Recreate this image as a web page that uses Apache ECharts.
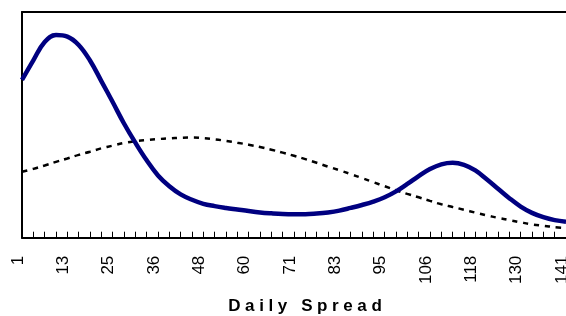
<!DOCTYPE html>
<html>
<head>
<meta charset="utf-8">
<script src="https://cdn.jsdelivr.net/npm/echarts@6/dist/echarts.min.js"></script>
<style>
html,body{margin:0;padding:0;background:#fff;}
#chart{width:566px;height:316px;}
</style>
</head>
<body>
<div id="chart"></div>
<script>
const categories = [1,4,7,10, 13,16,19,22, 25,28,31,33, 36,39,42,45, 48,51,54,57, 60,63,66,68, 71,74,77,80, 83,86,89,92, 95,98,100,103, 106,109,112,115, 118,121,124,127, 130,133,135,138, 141];
const actualSpread = [69.9,78.6,86.7,89.8, 89.1,85.4,78.5,69.4, 60.1,50.6,42.1,34.3, 27.6,22.8,19.2,16.8, 15.0,14.0,13.2,12.5, 11.8,11.2,10.8,10.5, 10.4,10.4,10.7,11.2, 12.0,13.2,14.5,16.0, 17.9,20.5,23.8,27.3, 30.4,32.5,33.2,32.3, 29.8,25.9,21.7,17.5, 13.8,11.0,9.1,7.8, 7.1];
const normalFit = [29.2,30.5,32.0,33.6, 35.1,36.7,38.1,39.6, 40.8,42.0,42.8,43.3, 43.7,44.0,44.3,44.4, 44.1,43.6,42.9,42.1, 41.2,40.2,39.0,37.7, 36.3,34.8,33.2,31.5, 29.9,28.2,26.4,24.6, 22.8,21.0,19.4,17.9, 16.3,14.8,13.6,12.4, 11.1,9.9,8.8,7.8, 6.8,5.9,5.3,4.7, 4.3];
const axisTitle = 'Daily Spread';

// letter spacing only for the axis title (canvas supports letterSpacing)
const origFill = CanvasRenderingContext2D.prototype.fillText;
CanvasRenderingContext2D.prototype.fillText = function (t, x, y, w) {
  if (t === axisTitle) {
    this.save();
    this.letterSpacing = '4.6px';
    origFill.call(this, t, x, y);
    this.letterSpacing = '0px';
    this.restore();
    return;
  }
  if ('letterSpacing' in this && this.letterSpacing !== '0px') this.letterSpacing = '0px';
  return origFill.apply(this, arguments);
};

const chart = echarts.init(document.getElementById('chart'), null, {renderer: 'canvas'});
chart.setOption({
  animation: false,
  grid: {
    left: 22, top: 12, right: 0, bottom: 78.3,
    show: false, containLabel: false, outerBoundsMode: 'none'
  },
  xAxis: [{
    type: 'category',
    data: categories,
    boundaryGap: false,
    axisLine: {show: true, lineStyle: {color: '#000', width: 2}},
    axisTick: {show: true, inside: true, length: 6, interval: 0, lineStyle: {color: '#000', width: 1}},
    axisLabel: {
      interval: 3, rotate: 90, margin: 18, color: '#000',
      fontFamily: 'Liberation Sans, Arial, sans-serif', fontSize: 17,
      verticalAlign: 'bottom', lineHeight: 8
    },
    splitLine: {show: false}
  }, {
    type: 'category', position: 'top', data: categories, boundaryGap: false,
    axisLine: {show: true, onZero: false, lineStyle: {color: '#000', width: 2}},
    axisTick: {show: false}, axisLabel: {show: false}, splitLine: {show: false}
  }],
  yAxis: {
    type: 'value', min: 0, max: 100,
    axisLine: {show: true, lineStyle: {color: '#000', width: 2}},
    axisTick: {show: false}, axisLabel: {show: false}, splitLine: {show: false}
  },
  graphic: [{
    type: 'text', x: 307.3, y: 306,
    style: {
      text: axisTitle, fill: '#000',
      font: 'bold 17px "Liberation Sans", Arial, sans-serif',
      align: 'center', verticalAlign: 'middle'
    }
  }],
  series: [
    {
      name: 'Normal', type: 'line', data: normalFit, smooth: 0.4, symbol: 'none',
      lineStyle: {color: '#000', width: 2.5, type: [5.5, 5.5]}
    },
    {
      name: 'Actual', type: 'line', data: actualSpread, smooth: 0.4, symbol: 'none',
      lineStyle: {color: '#000080', width: 4.5}
    }
  ]
});
</script>
</body>
</html>
